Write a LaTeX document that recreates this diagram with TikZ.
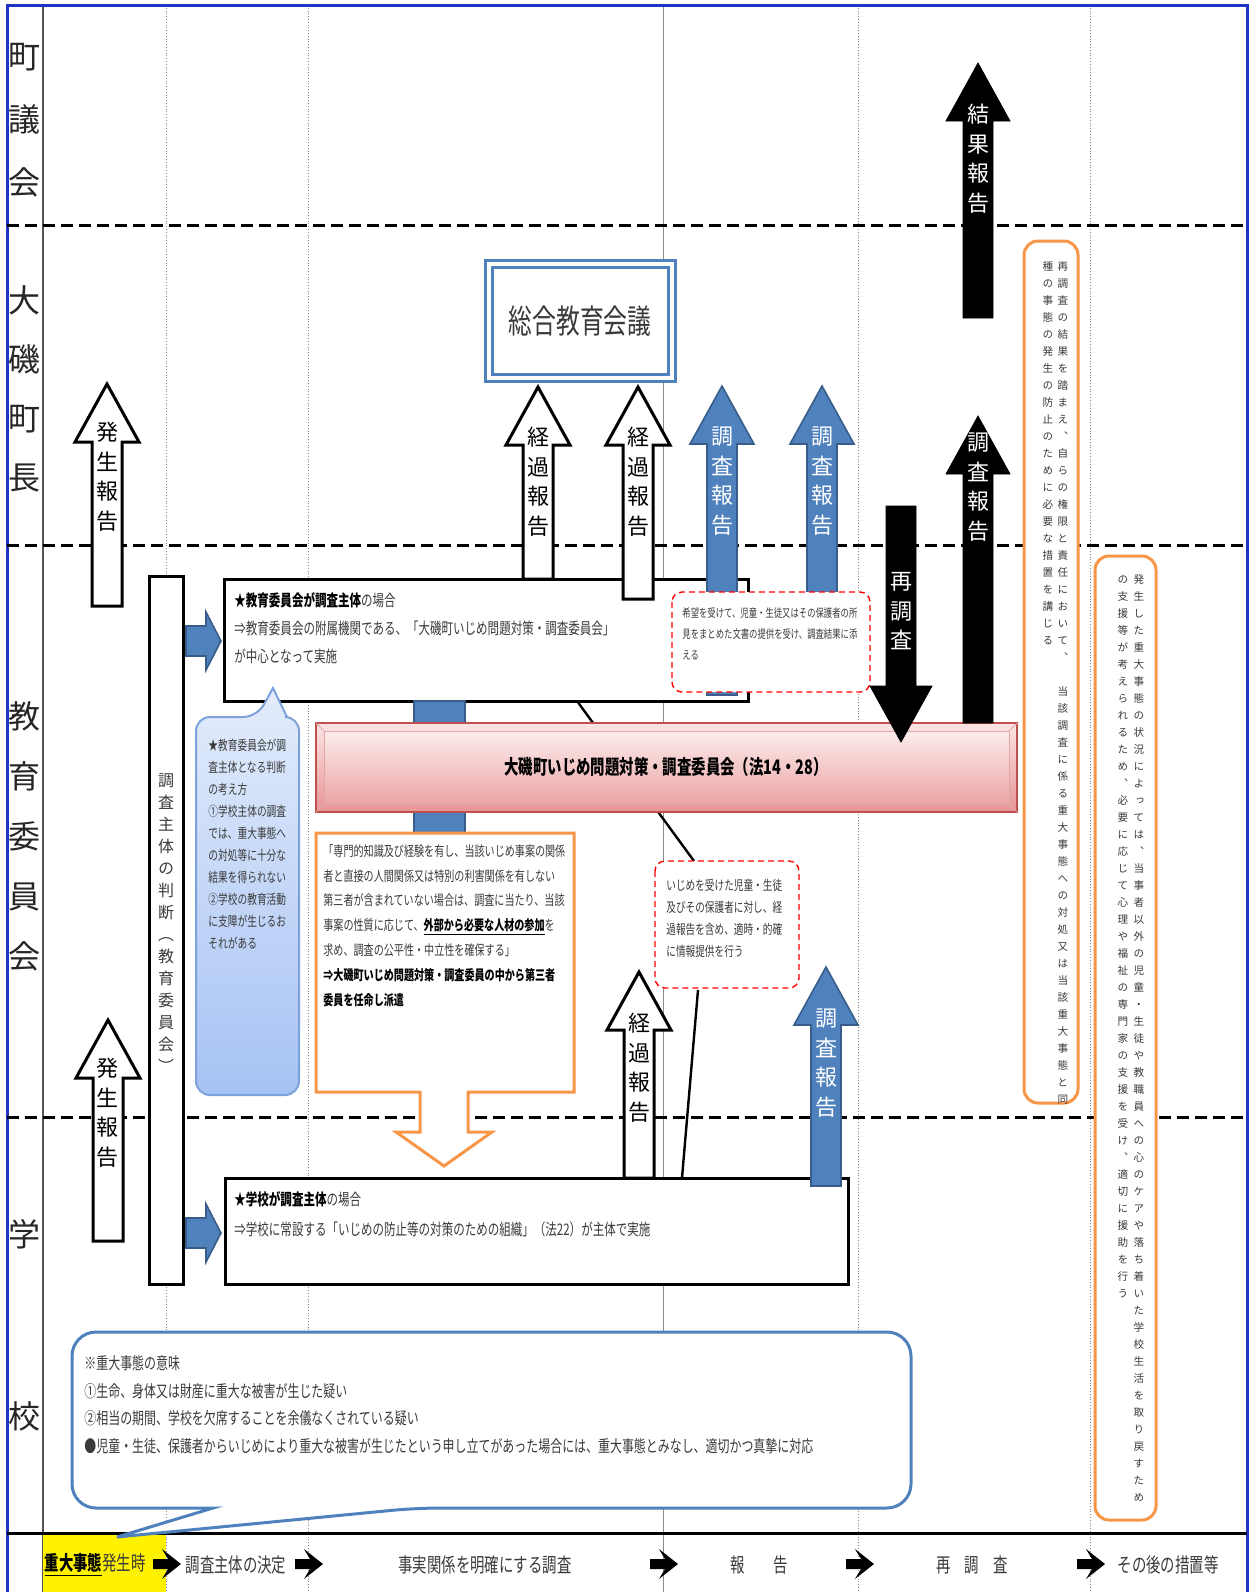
\documentclass[tikz,border=0pt]{standalone}
\usepackage{fontspec}
\setmainfont{Noto Sans CJK JP}
\newfontfamily\jpn[FakeStretch=0.72]{Noto Sans CJK JP}
\newfontfamily\jpv[RawFeature=+vert]{Noto Sans CJK JP}
\usetikzlibrary{calc}
\definecolor{frameblue}{HTML}{1F33C4}
\definecolor{arrblue}{HTML}{4F81BD}
\definecolor{arrblueline}{HTML}{385D8A}
\definecolor{boxorange}{HTML}{F79646}
\definecolor{redtop}{HTML}{FCE4E4}
\definecolor{redbot}{HTML}{E79494}
\definecolor{redline}{HTML}{C0504D}
\definecolor{calltop}{HTML}{E3ECFB}
\definecolor{callbot}{HTML}{A6C2F4}
\definecolor{callline}{HTML}{7DA2DB}
\definecolor{txtgray}{HTML}{3A3A3A}
\definecolor{gridgray}{HTML}{8C8C8C}
% vertical (tategaki) stack of characters
\newcommand\vtext[2]{\vbox{\baselineskip=#1\lineskiplimit=-\maxdimen\vtextloop#2\vtextend}}
\def\vtextend{}
\def\vtextloop#1{\ifx#1\vtextend\else\hbox to 1em{\hss\vrule height .88em depth .12em width 0pt\relax #1\hss}\expandafter\vtextloop\fi}
% block arrows: style, centre x, tip y, end y
\newcommand\uparr[4]{\draw[#1] (#2-15,#4) -- (#2-15,#3+58) -- (#2-32,#3+58) -- (#2,#3) -- (#2+32,#3+58) -- (#2+15,#3+58) -- (#2+15,#4) -- cycle;}
\newcommand\downarr[4]{\draw[#1] (#2-15,#3) -- (#2+15,#3) -- (#2+15,#4-56) -- (#2+31,#4-56) -- (#2,#4) -- (#2-31,#4-56) -- (#2-15,#4-56) -- cycle;}
\newcommand\rightarr[2]{\draw[bluearr] (#1-35,#2-15) -- (#1-15,#2-15) -- (#1-15,#2-29) -- (#1,#2) -- (#1-15,#2+29) -- (#1-15,#2+15) -- (#1-35,#2+15) -- cycle;}
\newcommand\steparr[2]{\fill[black] (#1-14,#2-5) -- (#1+1,#2-5) -- (#1-5,#2-15) -- (#1+14,#2) -- (#1-5,#2+15) -- (#1+1,#2+5) -- (#1-14,#2+5) -- cycle;}

\begin{document}
\begin{tikzpicture}[x=0.5pt,y=-0.5pt,
  rowlbl/.style={font=\fontsize{16}{16}\selectfont,inner sep=0pt,anchor=north,text=black!85},
  arrtxt/.style={font=\jpv\fontsize{11}{11}\selectfont,inner sep=0pt,anchor=north},
  whitearr/.style={draw=black,line width=1.5pt,fill=white},
  bluearr/.style={draw=arrblueline,line width=0.8pt,fill=arrblue},
  blackarr/.style={draw=black,fill=black},
  mainbox/.style={draw=black,line width=1.5pt,fill=white},
  bodytxt/.style={font=\jpn\fontsize{8}{14}\selectfont,text=txtgray,inner sep=0pt,anchor=north west,align=left},
  reddash/.style={draw=red,dash pattern=on 3pt off 2pt,line width=0.7pt,fill=white,rounded corners=5pt},
  orangebox/.style={draw=boxorange,line width=1.5pt,fill=white},
  vtxt/.style={font=\jpv\fontsize{5.3}{5.3}\selectfont,text=txtgray,inner sep=0pt,anchor=north},
  steplbl/.style={font=\jpn\fontsize{10}{10}\selectfont,text=txtgray,inner sep=0pt}]
\useasboundingbox (0,0) rectangle (1254,1592);

% grid and lanes
\foreach \cx in {166,308,858,1090}
  \draw[gridgray,line width=0.4pt,densely dotted] (\cx,5) -- (\cx,1592);
\draw[gridgray,line width=0.4pt] (663,5) -- (663,1592);
\draw[gridgray!60!black,line width=0.6pt] (43,5) -- (43,1592);
\draw[frameblue,line width=1.5pt] (7,1592) -- (7,5) -- (1247,5) -- (1247,1592);
\foreach \ly in {225,545,1117}
  \draw[line width=1.5pt,dash pattern=on 6pt off 3pt] (7,\ly) -- (1247,\ly);
\fill[yellow] (43,1534) rectangle (166,1592);
\draw[line width=1.5pt] (7,1533) -- (1247,1533);

% lane labels
\node[rowlbl] (lblgikai) at (25,40) {\vtext{31.5pt}{町議会}};
\node[rowlbl] (lblchocho) at (25,284) {\vtext{29.5pt}{大磯町長}};
\node[rowlbl] (lblkyoi) at (25,700) {\vtext{30pt}{教育委員会}};
\node[rowlbl] (lblgaku) at (25,1218) {\vtext{30pt}{学}};
\node[rowlbl] (lblko) at (25,1400) {\vtext{30pt}{校}};

% sogo kyoiku kaigi
\draw[draw=arrblue,line width=1.5pt,double=white,double distance=2pt,fill=white] (489,264) rectangle (672,378);
\node[font=\jpn\fontsize{16.5}{16.5}\selectfont,text=txtgray,inner sep=0pt] (sogo) at (580,321) {総合教育会議};

% hassei hokoku
\uparr{whitearr}{107}{384}{606}
\node[arrtxt] (hassei1) at (107,421) {\vtext{14.75pt}{発生報告}};
\uparr{whitearr}{108}{1020}{1241}
\node[arrtxt] (hassei2) at (108,1057) {\vtext{14.75pt}{発生報告}};

% chosa shutai no handan
\draw[mainbox] (149,576) rectangle (183,1284);
\node[vtxt,font=\jpv\fontsize{8}{8}\selectfont] (handan) at (166,772) {\vtext{11pt}{調査主体の判断（教育委員会）}};
\rightarr{221}{641}
\rightarr{221}{1233}

% kyoiku iinkai case
\draw[mainbox] (224,579) rectangle (748,701);
\node[bodytxt] (kyoiTxt) at (234,592) {{\color{black}\bfseries ★教育委員会が調査主体}の場合\\⇒教育委員会の附属機関である、「大磯町いじめ問題対策・調査委員会」\\が中心となって実施};

\uparr{whitearr}{538}{387}{579}
\node[arrtxt] (keika1) at (538,426) {\vtext{14.75pt}{経過報告}};
\uparr{whitearr}{638}{387}{599}
\node[arrtxt] (keika2) at (638,426) {\vtext{14.75pt}{経過報告}};
\uparr{bluearr}{722}{386}{695}
\node[arrtxt,text=white] (chosa1) at (722,425) {\vtext{14.75pt}{調査報告}};
\uparr{bluearr}{822}{386}{600}
\node[arrtxt,text=white] (chosa2) at (822,425) {\vtext{14.75pt}{調査報告}};

\draw[reddash] (672,592) rectangle (870,692);
\node[bodytxt,font=\jpn\fontsize{5.8}{10.5}\selectfont] (shokenTxt) at (682,607) {希望を受けて、児童・生徒又はその保護者の所\\見をまとめた文書の提供を受け、調査結果に添\\える};

% iinkai
\draw[bluearr] (414,701) rectangle (465,833);
\coordinate (lineA1) at (577,701);
\coordinate (lineA2) at (694,861);
\draw[line width=1.2pt] (lineA1) -- (lineA2);
\draw[draw=redline,line width=0.8pt,top color=redtop,bottom color=redbot] (316,723) rectangle (1017,812);
\draw[draw=redline!50,line width=0.5pt,top color=redtop!70!white,bottom color=redbot!85!white] (324,731) rectangle (1009,804);
\draw[redline!50,line width=0.5pt] (316,723) -- (324,731) (1017,723) -- (1009,731) (316,812) -- (324,804) (1017,812) -- (1009,804);
\node[font=\jpn\bfseries\fontsize{10}{10}\selectfont,inner sep=0pt] (iinkai) at (666,767) {大磯町いじめ問題対策・調査委員会（法14・28）};

% black arrows
\uparr{blackarr}{978}{63}{318}
\node[arrtxt,text=white] (kekka) at (978,103) {\vtext{14.75pt}{結果報告}};
\uparr{blackarr}{978}{416}{723}
\node[arrtxt,text=white] (chosa3) at (978,431) {\vtext{14.75pt}{調査報告}};
\downarr{blackarr}{901}{506}{742}
\node[arrtxt,text=white] (saichosa) at (901,570) {\vtext{14.75pt}{再調査}};

% callout
\draw[line width=1pt,draw=callline,top color=calltop,bottom color=callbot]
  (196,900) [rounded corners=7pt] -- (196,717) -- (257,717) [sharp corners] -- (273,688) -- (287,717) [rounded corners=7pt] -- (299,717) -- (299,1095) -- (196,1095) -- cycle;
\node[bodytxt,font=\jpn\fontsize{6.75}{11}\selectfont] (handanTxt) at (208,739) {★教育委員会が調\\査主体となる判断\\の考え方\\①学校主体の調査\\では、重大事態へ\\の対処等に十分な\\結果を得られない\\②学校の教育活動\\に支障が生じるお\\それがある};

% gaibu jinzai
\draw[orangebox] (316,833) -- (574,833) -- (574,1092) -- (468,1092) -- (468,1132) -- (492,1132) -- (444,1166) -- (396,1132) -- (420,1132) -- (420,1092) -- (316,1092) -- cycle;
\node[bodytxt,font=\jpn\fontsize{7}{12.4}\selectfont] (gaibuTxt) at (323,844) {「専門的知識及び経験を有し、当該いじめ事案の関係\\者と直接の人間関係又は特別の利害関係を有しない\\第三者が含まれていない場合は、調査に当たり、当該\\事案の性質に応じて、{\color{black}\bfseries\underline{外部から必要な人材の参加}}を\\求め、調査の公平性・中立性を確保する」\\{\color{black}\bfseries ⇒大磯町いじめ問題対策・調査委員の中から第三者}\\{\color{black}\bfseries 委員を任命し派遣}};

\draw[reddash] (655,861) rectangle (799,988);
\node[bodytxt,font=\jpn\fontsize{6.7}{11}\selectfont] (teikyoTxt) at (666,879) {いじめを受けた児童・生徒\\及びその保護者に対し、経\\過報告を含め、適時・的確\\に情報提供を行う};
\coordinate (lineB1) at (698,990);
\coordinate (lineB2) at (682,1178);
\draw[line width=1.2pt] (lineB1) -- (lineB2);

% school case
\draw[mainbox] (225,1178) rectangle (848,1284);
\node[bodytxt,font=\jpn\fontsize{8}{15}\selectfont] (gakkoTxt) at (234,1191) {{\color{black}\bfseries ★学校が調査主体}の場合\\⇒学校に常設する「いじめの防止等の対策のための組織」（法22）が主体で実施};
\uparr{whitearr}{639}{972}{1178}
\node[arrtxt] (keika3) at (639,1012) {\vtext{14.75pt}{経過報告}};
\uparr{bluearr}{826}{967}{1186}
\node[arrtxt,text=white] (chosa4) at (826,1007) {\vtext{14.75pt}{調査報告}};

% sochi
\draw[orangebox,rounded corners=7pt] (1024,241) rectangle (1078,1103);
\node[vtxt] (saichosaR) at (1063,261) {\vtext{8.5pt}{再調査の結果を踏まえ、自らの権限と責任において、　当該調査に係る重大事態への対処又は当該重大事態と同}};
\node[vtxt] (saichosaL) at (1048,261) {\vtext{8.5pt}{種の事態の発生の防止のために必要な措置を講じる}};
\draw[orangebox,rounded corners=7pt] (1095,556) rectangle (1156,1520);
\node[vtxt] (sonogoR) at (1139,574) {\vtext{8.5pt}{発生した重大事態の状況によっては、当事者以外の児童・生徒や教職員への心のケアや落ち着いた学校生活を取り戻すため}};
\node[vtxt] (sonogoL) at (1123,574) {\vtext{8.5pt}{の支援等が考えられるため、必要に応じて心理や福祉の専門家の支援を受け、適切に援助を行う}};

% juudai jitai no imi
\draw[draw=arrblue,line width=1.5pt,fill=white]
  (72,1420) [rounded corners=12pt] -- (72,1332) -- (911,1332) -- (911,1508) -- (416,1508) [sharp corners] -- (117,1537) -- (213,1508) [rounded corners=12pt] -- (72,1508) -- cycle;
\node[bodytxt,font=\jpn\fontsize{8.3}{13.8}\selectfont] (imiTxt) at (84,1355) {※重大事態の意味\\①生命、身体又は財産に重大な被害が生じた疑い\\②相当の期間、学校を欠席することを余儀なくされている疑い\\●児童・生徒、保護者からいじめにより重大な被害が生じたという申し立てがあった場合には、重大事態とみなし、適切かつ真摯に対応};

% steps
\node[steplbl] (stepHassei) at (95,1565) {{\color{black}\bfseries\underline{重大事態}}発生時};
\node[steplbl] (stepKettei) at (236,1565) {調査主体の決定};
\node[steplbl] (stepChosa) at (485,1565) {事実関係を明確にする調査};
\node[steplbl] (stepHokoku) at (759,1565) {報　　告};
\node[steplbl] (stepSai) at (972,1565) {再　調　査};
\node[steplbl] (stepSonogo) at (1168,1565) {その後の措置等};
\foreach \sx in {167,309,664,860,1091}
  {\steparr{\sx}{1564}}
\end{tikzpicture}
\end{document}
